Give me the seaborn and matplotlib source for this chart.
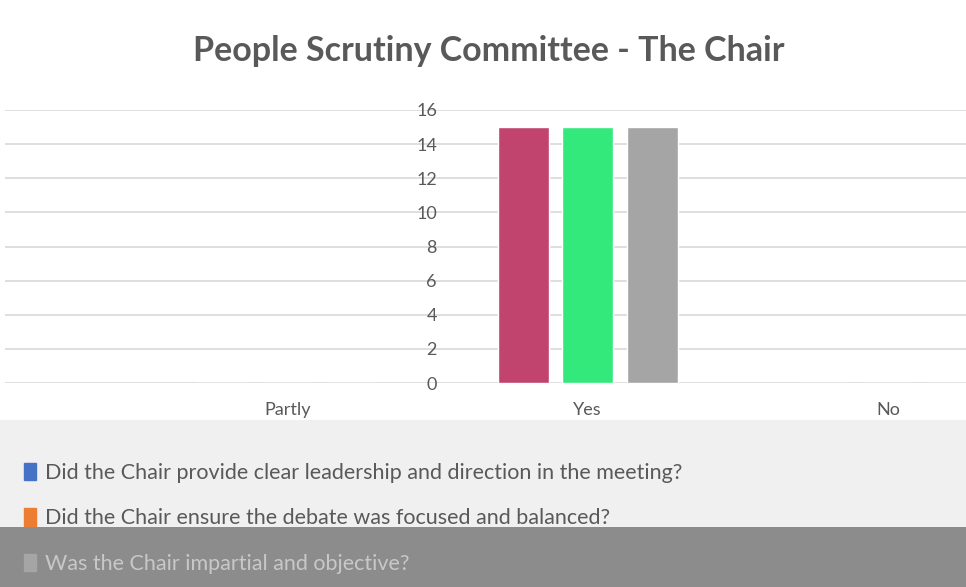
import numpy as np
import pandas as pd
import matplotlib
matplotlib.use("Agg")
import matplotlib.pyplot as plt
from matplotlib.patches import Rectangle
import seaborn as sns

# --- Données ---
answers = ["Partly", "Yes", "No"]
questions = [
    "Did the Chair provide clear leadership and direction in the meeting?",
    "Did the Chair ensure the debate was focused and balanced?",
    "Was the Chair impartial and objective?",
]
q1_counts = [0, 15, 0]
q2_counts = [0, 15, 0]
q3_counts = [0, 15, 0]
bar_colors = ["#C1446E", "#33E97C", "#A5A5A5"]
legend_colors = ["#4472C4", "#ED7D31", "#A5A5A5"]

df = pd.DataFrame({
    "answer": answers * 3,
    "question": [questions[0]] * 3 + [questions[1]] * 3 + [questions[2]] * 3,
    "count": q1_counts + q2_counts + q3_counts,
})

sns.set_theme(style="white")
plt.rcParams["font.family"] = ["Lato", "DejaVu Sans"]
grey_txt = "#595959"

fig = plt.figure(figsize=(9.66, 5.87), dpi=100)

# fonds gris sous la légende
fig.patches.append(Rectangle((0, 60 / 587), 1, 107 / 587, transform=fig.transFigure,
                             facecolor="#F0F0F0", edgecolor="none", zorder=0))
fig.patches.append(Rectangle((0, 0), 1, 60 / 587, transform=fig.transFigure,
                             facecolor="#8C8C8C", edgecolor="none", zorder=0))

ax = fig.add_axes([5 / 966, (587 - 383) / 587, 961 / 966, 273 / 587])
sns.barplot(data=df, x="answer", y="count", hue="question", order=answers,
            hue_order=questions, palette=bar_colors, width=0.645, gap=0.21,
            saturation=1, ax=ax)

ax.set_xlim(-0.94, 2.26)
ax.set_ylim(0, 16)
ax.set_yticks(np.arange(0, 17, 2))
ax.yaxis.grid(True, color="#D9D9D9", linewidth=1.2)
ax.set_axisbelow(True)
for s in ax.spines.values():
    s.set_visible(False)
ax.tick_params(axis="y", length=0, pad=-311, labelsize=13, labelcolor=grey_txt)
ax.tick_params(axis="x", length=0, pad=14, labelsize=13, labelcolor=grey_txt)
ax.set_xlabel("")
ax.set_ylabel("")

# --- Légende ---
handles, labels = ax.get_legend_handles_labels()
ax.get_legend().remove()
leg = fig.legend(handles, labels, loc="upper left", bbox_to_anchor=(0.005, 0.245),
                 frameon=False, fontsize=15.5, labelspacing=1.2, handlelength=0.55,
                 handleheight=0.85, handletextpad=0.4)
for h, c in zip(leg.legend_handles, legend_colors):
    h.set_facecolor(c)
    h.set_edgecolor(c)
for t in leg.get_texts():
    t.set_color(grey_txt)
leg.get_texts()[2].set_color("#C8C8C8")

fig.text(0.506, 0.913, "People Scrutiny Committee - The Chair", ha="center", va="center",
         fontsize=24.5, fontweight="bold", color=grey_txt)

plt.savefig("out.png", dpi=100)
